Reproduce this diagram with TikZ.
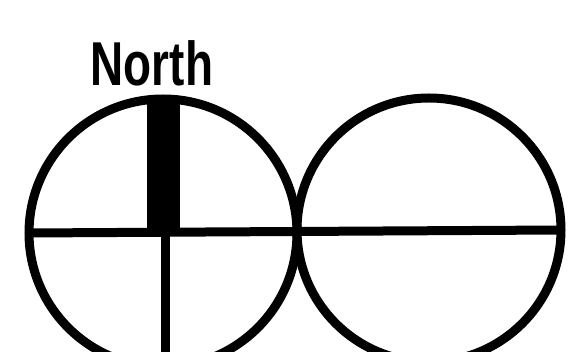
\documentclass[tikz,border=0pt]{standalone}
\usepackage{fontspec}
\setmainfont{Liberation Sans}
\begin{document}
\begin{tikzpicture}[x=1pt,y=-1pt,
  ring/.style={circle, draw=black, line width=9pt, minimum size=#1, inner sep=0pt, outer sep=0pt},
  rule/.style={draw=black, line width=9pt},
  northbar/.style={rectangle, fill=black, inner sep=0pt, minimum width=33pt, minimum height=140pt},
  lbl/.style={font=\fontsize{62}{62}\selectfont\bfseries, xscale=0.74, inner sep=0pt}]
\useasboundingbox (0,0) rectangle (574,352);
\clip (0,0) rectangle (574,352);
\node[ring=268pt] (L) at (163,233) {};
\node[ring=264pt] (R) at (429,230) {};
\node[northbar, anchor=north] (bar) at (163.5,96) {};
\coordinate (bot) at (165,360);
\coordinate (top) at (165,232);
\draw[rule] (L.west) -- (R.east);
\draw[rule] (top) -- (bot);
\node[lbl, anchor=base] (north) at (152,86) {North};
\end{tikzpicture}
\end{document}
